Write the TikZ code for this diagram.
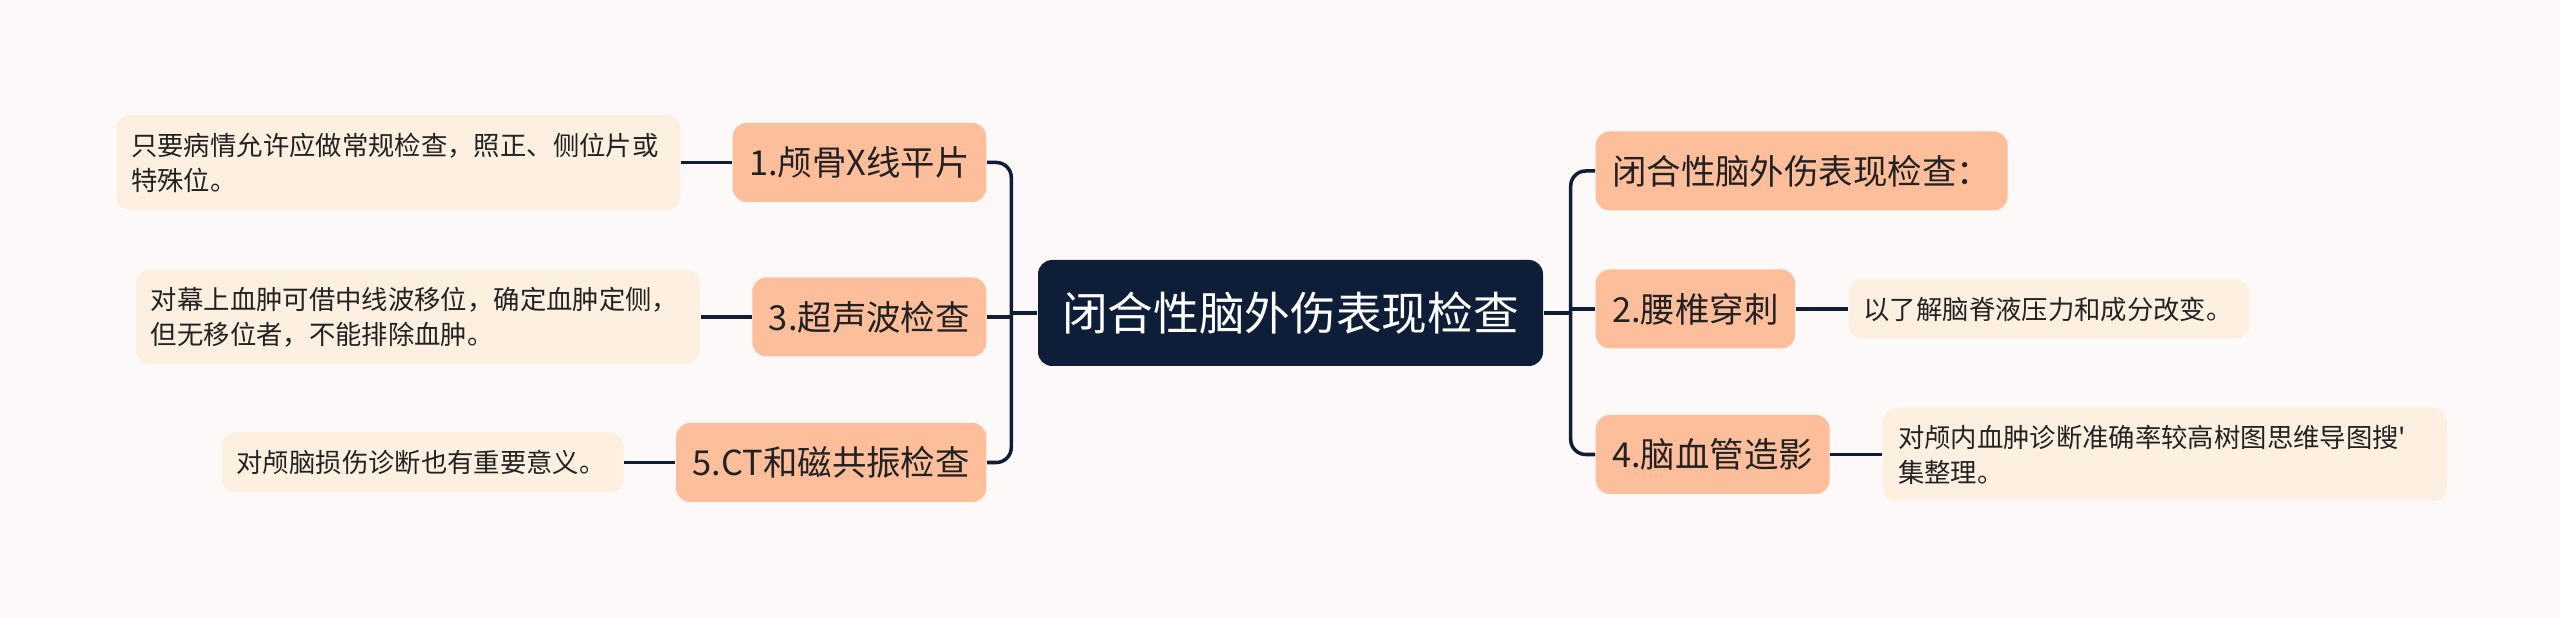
\documentclass[tikz,border=0pt]{standalone}
\usepackage{fontspec}
\usepackage{tikz}
\usetikzlibrary{positioning}
\newfontfamily\cjk{Noto Sans CJK SC}
\definecolor{bgpink}{HTML}{FDF9F8}
\definecolor{navy}{HTML}{0E1E38}
\definecolor{peach}{HTML}{FDBE9C}
\definecolor{cream}{HTML}{FEF0E1}
\definecolor{ink}{HTML}{222222}

\begin{document}
\begin{tikzpicture}[root/.style={fill=navy, text=white, rounded corners=4pt, minimum width=5.05cm, minimum height=1.06cm, font=\cjk\fontsize{13pt}{15pt}\selectfont},
topic/.style={fill=peach, text=ink, rounded corners=4pt, minimum height=0.79cm, inner xsep=0.165cm, font=\cjk\fontsize{9.8pt}{11pt}\selectfont},
leaf/.style={fill=cream, text=ink, rounded corners=4pt, inner xsep=0.15cm, align=left, font=\cjk\fontsize{7.5pt}{9.96pt}\selectfont},
link/.style={draw=navy, line width=1pt, rounded corners=0.15cm}]
\fill[bgpink] (0,0) rectangle (25.6,6.18);
\useasboundingbox (0,0) rectangle (25.6,6.18);

\node[root] (root) at (12.905,3.05) {闭合性脑外伤表现检查};

\node[topic, anchor=east] (xray) at (9.87,4.555) {1.颅骨X线平片};
\node[topic, anchor=east] (echo) at (9.87,3.01) {3.超声波检查};
\node[topic, anchor=east] (ctmri) at (9.87,1.555) {5.CT和磁共振检查};

\node[topic, anchor=west] (summary) at (15.95,4.47) {闭合性脑外伤表现检查：};
\node[topic, anchor=west] (lumbar) at (15.95,3.09) {2.腰椎穿刺};
\node[topic, anchor=west] (angio) at (15.95,1.635) {4.脑血管造影};

\node[leaf, text width=5.34cm, minimum height=0.95cm, left=0.51cm of xray] (xraynote) {只要病情允许应做常规检查，照正、侧位片或\\特殊位。};
\node[leaf, text width=5.34cm, minimum height=0.94cm, left=0.51cm of echo] (echonote) {对幕上血肿可借中线波移位，确定血肿定侧，\\但无移位者，不能排除血肿。};
\node[leaf, text width=3.72cm, minimum height=0.6cm, left=0.51cm of ctmri] (ctnote) {对颅脑损伤诊断也有重要意义。};

\node[leaf, text width=3.71cm, minimum height=0.59cm, right=0.52cm of lumbar] (lumbarnote) {以了解脑脊液压力和成分改变。};
\node[leaf, text width=5.34cm, minimum height=0.94cm, right=0.52cm of angio] (angionote) {对颅内血肿诊断准确率较高树图思维导图搜'\\集整理。};

\coordinate (lspine) at ([xshift=-0.26cm]root.west);
\coordinate (rspine) at ([xshift=0.27cm]root.east);

\draw[link] (xray.east) -| (lspine) |- (ctmri.east);
\draw[link] (root.west) -- (lspine);
\draw[link] (echo.east) -- (echo.east -| lspine);
\draw[link] (summary.west) -| (rspine) |- (angio.west);
\draw[link] (root.east) -- (rspine);
\draw[link] (lumbar.west) -- (lumbar.west -| rspine);

\draw[link] (xray.west) -- (xraynote.east);
\draw[link] (echo.west) -- (echonote.east);
\draw[link] (ctmri.west) -- (ctnote.east);
\draw[link] (lumbar.east) -- (lumbarnote.west);
\draw[link] (angio.east) -- (angionote.west);
\end{tikzpicture}
\end{document}
